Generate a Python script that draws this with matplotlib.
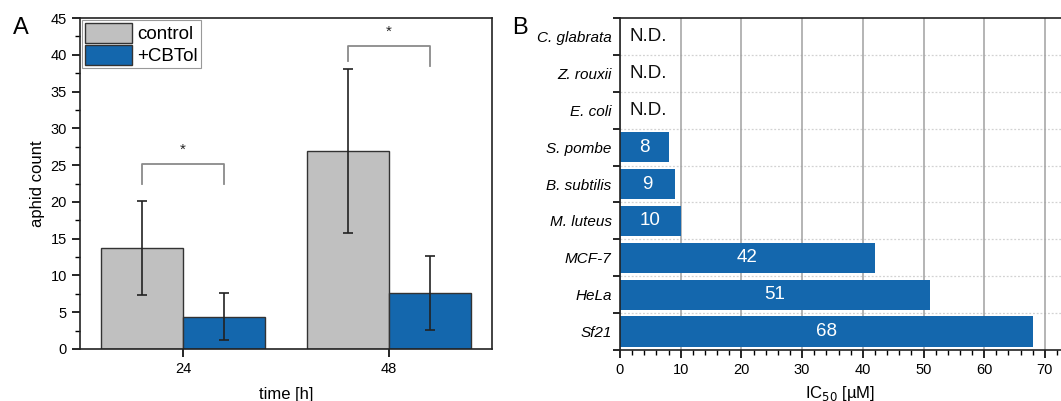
import matplotlib
matplotlib.use("Agg")
import matplotlib.pyplot as plt
import numpy as np
from matplotlib.ticker import MultipleLocator, FixedLocator

plt.rcParams['font.family'] = ['Liberation Sans', 'DejaVu Sans']

# ---- Panel A data ----
times = ["24", "48"]
control_mean = [13.7, 26.9]
control_err = [6.4, 11.1]
cbtol_mean = [4.4, 7.6]
cbtol_err = [3.2, 5.0]
series_labels = ["control", "+CBTol"]

# ---- Panel B data ----
organisms = ["C. glabrata", "Z. rouxii", "E. coli", "S. pombe", "B. subtilis",
             "M. luteus", "MCF-7", "HeLa", "Sf21"]
ic50 = [None, None, None, 8, 9, 10, 42, 51, 68]
nd_label = "N.D."

GRAY = "#c0c0c0"
BLUE = "#1467ad"

fig = plt.figure(figsize=(10.61, 4.01), dpi=100)

# ================= Panel A =================
axA = fig.add_axes([80/1061, 1-349/401, 412/1061, 331/401])
x = np.arange(len(times))
w = 0.4
axA.bar(x - w/2, control_mean, w, color=GRAY, edgecolor="#333333", linewidth=1.0,
        label=series_labels[0], zorder=2)
axA.bar(x + w/2, cbtol_mean, w, color=BLUE, edgecolor="#333333", linewidth=1.0,
        label=series_labels[1], zorder=2)
axA.errorbar(x - w/2, control_mean, yerr=control_err, fmt="none", ecolor="#222222",
             elinewidth=1.2, capsize=3.5, capthick=1.2, zorder=3)
axA.errorbar(x + w/2, cbtol_mean, yerr=cbtol_err, fmt="none", ecolor="#222222",
             elinewidth=1.2, capsize=3.5, capthick=1.2, zorder=3)

# significance brackets
brackets = [(0, 25.2, 22.5, 22.5), (1, 41.2, 39.1, 38.5)]
for xi, ytop, yl, yr in brackets:
    xl, xr = xi - w/2, xi + w/2
    axA.plot([xl, xl, xr, xr], [yl, ytop, ytop, yr], color="#8a8a8a", lw=1.3, zorder=3)
    axA.text(xi, ytop + 1.0, "*", ha="center", va="bottom", fontsize=11, color="#222222")

axA.set_xlim(-0.5, 1.5)
axA.set_ylim(0, 45)
axA.set_xticks(x)
axA.set_xticklabels(times)
axA.yaxis.set_major_locator(MultipleLocator(5))
axA.yaxis.set_minor_locator(MultipleLocator(2.5))
axA.tick_params(axis="both", direction="out", labelsize=10.5, length=6, width=1.2)
axA.tick_params(axis="y", which="minor", direction="out", length=3.5, width=1.0)
for s in axA.spines.values():
    s.set_linewidth(1.2)
    s.set_color("#222222")
axA.set_ylabel("aphid count", fontsize=12)
axA.set_xlabel("time [h]", fontsize=12, labelpad=8)
leg = axA.legend(loc="upper left", borderaxespad=0.1, fontsize=13.5, handlelength=2.5,
                 handleheight=1.25, labelspacing=0.1, handletextpad=0.3,
                 borderpad=0.15, fancybox=False, framealpha=1, edgecolor="#999999")
leg.get_frame().set_linewidth(0.8)
fig.text(0.012, 0.915, "A", fontsize=17)

# ================= Panel B =================
axB = fig.add_axes([620/1061, 1-350/401, 441/1061, 332/401])
n = len(organisms)
ypos = np.arange(n)
vals = [v if v is not None else 0 for v in ic50]
bars = axB.barh(ypos, vals, height=0.82, color=BLUE, zorder=2)
for yi, v in zip(ypos, ic50):
    if v is None:
        axB.text(1.6, yi, nd_label, ha="left", va="center", fontsize=13.5, color="#111111")
    else:
        axB.text(v/2, yi, str(v), ha="center", va="center", fontsize=13.5, color="white")

axB.set_ylim(n - 0.5, -0.5)
axB.set_xlim(0, 441/6.07)
axB.set_yticks(ypos)
axB.set_yticklabels(organisms, fontstyle="italic", fontsize=11)
axB.yaxis.set_minor_locator(FixedLocator(np.arange(-0.5, n, 1.0)))
axB.xaxis.set_major_locator(MultipleLocator(10))
axB.xaxis.set_minor_locator(MultipleLocator(2))
axB.tick_params(axis="y", which="major", length=0, pad=6)
axB.tick_params(axis="y", which="minor", direction="out", length=5, width=1.2)
axB.tick_params(axis="x", which="major", direction="out", length=6, width=1.2, labelsize=10.5)
axB.tick_params(axis="x", which="minor", direction="out", length=3.5, width=1.0)
axB.grid(axis="x", which="major", color="#a0a0a0", lw=1.1, zorder=0)
for yb in np.arange(0.5, n - 1, 1.0):
    axB.axhline(yb, color="#d2d2d2", lw=0.9, ls=(0, (1.5, 1.5)), zorder=0)
axB.set_axisbelow(True)
axB.spines["right"].set_visible(False)
for k in ["left", "bottom", "top"]:
    axB.spines[k].set_linewidth(1.2)
    axB.spines[k].set_color("#222222")
axB.set_xlabel("IC$_{50}$ [µM]", fontsize=12, labelpad=5)
fig.text(0.483, 0.915, "B", fontsize=17)

fig.savefig("out.png", dpi=100)
